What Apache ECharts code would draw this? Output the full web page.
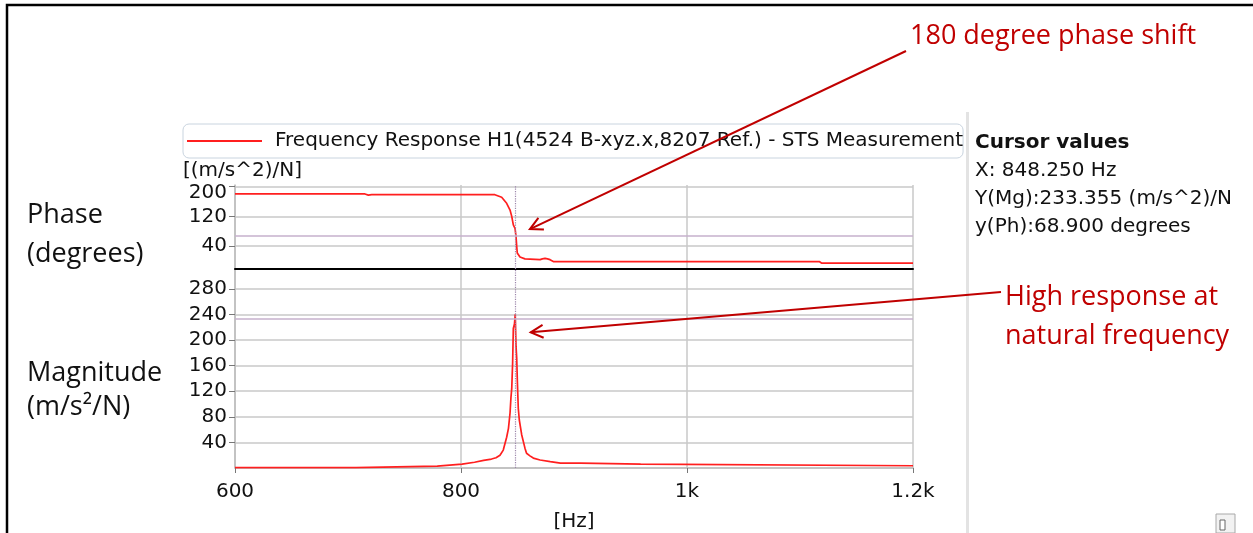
<!DOCTYPE html>
<html>
<head>
<meta charset="utf-8">
<script src="https://cdn.jsdelivr.net/npm/echarts@6/dist/echarts.min.js"></script>
<style>
  html, body { margin: 0; padding: 0; background: #fff; }
  #main { width: 1253px; height: 533px; }
</style>
</head>
<body>
<div id="main"></div>
<script>
const seriesName = 'Frequency Response H1(4524 B-xyz.x,8207 Ref.) - STS Measurement';

// phase trace (degrees)
const phaseFreq = [600, 715, 716.5, 718, 719.5, 721, 723, 830, 836, 840.4,
  843.4, 844.9, 846.3, 847.8, 848.7, 849.3, 849.8, 852.2, 856.6, 870,
  872, 874.4, 876.5, 878.8, 881.7, 1117, 1119, 1200];
const phaseDeg = [180, 180, 176, 177, 176, 178, 178, 178, 171, 155,
  137, 120, 97, 88, 66, 40, 22, 11, 6, 4,
  6, 7.5, 6, 4, -1, -1, -5, -5];

// magnitude trace ((m/s^2)/N)
const magFreq = [600, 707, 708, 779, 780, 801, 802, 812, 813, 820,
  827, 831, 834.5, 837.4, 840.4, 842, 843.4, 844.2, 844.9, 845.7,
  846.3, 847.3, 848, 848.7, 849.3, 849.9, 850.7, 851.6, 853.7, 856.6,
  858, 861, 864, 870, 879, 888, 906, 907, 959, 960, 1200];
const magValue = [0.5, 0.5, 3, 3, 6, 6, 9, 9, 11, 12,
  14, 16, 20, 28, 48, 62, 86, 110, 124, 165,
  218, 225, 240, 190, 172, 134, 93, 75, 52, 31,
  23, 19, 15.5, 12.5, 10, 7.7, 7.5, 6, 6, 3.5, 3.5];

const xTicks = [600, 800, 1000, 1200];
const xTickLabels = ['600', '800', '1k', '1.2k'];
const phaseTicks = [40, 120, 200];

const cursorFreq = 848.25;
const cursorMag = 233.355;
const cursorPhase = 68.9;
const cursorTitle = 'Cursor values';
const cursorLines = ['X: 848.250 Hz', 'Y(Mg):233.355 (m/s^2)/N', 'y(Ph):68.900 degrees'];

const note1 = '180 degree phase shift';
const note2 = ['High response at', 'natural frequency'];

const RED = '#ff1f1f';
const NOTE = '#c00000';
const GRID = '#c8c8c8';
const TXT = '#111';
const FONT = 'DejaVu Sans';

const chart = echarts.init(document.getElementById('main'));

const axisFont = { fontFamily: FONT, fontSize: 20, color: TXT };

const cursorMark = (yVal) => ({
  silent: true,
  symbol: ['none', 'none'],
  label: { show: false },
  animation: false,
  data: [
    { xAxis: cursorFreq, lineStyle: { type: 'dotted', color: '#9c86aa', width: 1.2 } },
    { yAxis: yVal, lineStyle: { type: 'solid', color: '#c6b0cc', width: 1.5 } }
  ]
});

const option = {
  animation: false,
  backgroundColor: '#fff',
  legend: {
    left: 183,
    top: 124,
    padding: [7, 0, 7, 4],
    icon: 'rect',
    itemWidth: 75,
    itemHeight: 2,
    borderColor: '#c9d4df',
    borderWidth: 1,
    borderRadius: 6,
    textStyle: { fontFamily: FONT, fontSize: 20, color: TXT, padding: [0, 0, 0, 8] },
    data: [seriesName]
  },
  grid: [
    { left: 235, width: 678, top: 185, height: 84 },
    { left: 235, width: 678, top: 269, height: 201 }
  ],
  xAxis: [
    {
      gridIndex: 0, type: 'value', min: 600, max: 1200, interval: 200,
      axisLine: { onZero: false, lineStyle: { color: '#000', width: 2 } },
      axisTick: { show: false },
      axisLabel: { show: false },
      splitLine: { lineStyle: { color: GRID, width: 1.5 } }
    },
    {
      gridIndex: 1, type: 'value', min: 600, max: 1200, interval: 200,
      name: '[Hz]', nameLocation: 'middle', nameGap: 44,
      nameTextStyle: axisFont,
      axisLine: { onZero: false, lineStyle: { color: '#bdbdbd', width: 1.5 } },
      axisTick: { length: 5, lineStyle: { color: '#777' } },
      axisLabel: Object.assign({ margin: 14, formatter: v => xTickLabels[xTicks.indexOf(v)] }, axisFont),
      splitLine: { lineStyle: { color: GRID, width: 1.5 } }
    }
  ],
  yAxis: [
    {
      gridIndex: 0, type: 'value', min: -21, max: 204,
      axisLine: { show: true, lineStyle: { color: '#bdbdbd', width: 1.5 } },
      axisTick: { show: true, length: 6, customValues: phaseTicks, lineStyle: { color: '#777' } },
      axisLabel: Object.assign({
        margin: 8,
        customValues: phaseTicks,
        formatter: v => v === phaseTicks[phaseTicks.length - 1] ? '{top|' + v + '}' : String(v),
        rich: { top: { fontFamily: FONT, fontSize: 20, color: TXT, padding: [13, 0, 0, 0] } }
      }, axisFont),
      splitLine: { lineStyle: { color: GRID, width: 1.5 } }
    },
    {
      gridIndex: 1, type: 'value', min: 0, max: 311, interval: 40,
      axisLine: { show: true, lineStyle: { color: '#bdbdbd', width: 1.5 } },
      axisTick: { show: true, length: 6, lineStyle: { color: '#777' } },
      axisLabel: Object.assign({ margin: 8, showMinLabel: false, showMaxLabel: false }, axisFont),
      splitLine: { lineStyle: { color: GRID, width: 1.5 } }
    }
  ],
  series: [
    {
      name: seriesName, type: 'line', xAxisIndex: 0, yAxisIndex: 0,
      symbol: 'none', lineStyle: { color: RED, width: 1.7 }, itemStyle: { color: RED },
      data: phaseFreq.map((f, i) => [f, phaseDeg[i]]),
      markLine: cursorMark(cursorPhase), z: 3
    },
    {
      name: seriesName, type: 'line', xAxisIndex: 1, yAxisIndex: 1,
      symbol: 'none', lineStyle: { color: RED, width: 1.7 }, itemStyle: { color: RED },
      data: magFreq.map((f, i) => [f, magValue[i]]),
      markLine: cursorMark(cursorMag), z: 3
    }
  ]
};

chart.setOption(option);

function arrow(from, to) {
  const ang = Math.atan2(from[1] - to[1], from[0] - to[0]);
  const len = 14, spread = 0.48;
  const w1 = [to[0] + len * Math.cos(ang + spread), to[1] + len * Math.sin(ang + spread)];
  const w2 = [to[0] + len * Math.cos(ang - spread), to[1] + len * Math.sin(ang - spread)];
  return [
    { type: 'polyline', z: 100, shape: { points: [from, to] }, style: { stroke: NOTE, lineWidth: 2, fill: null } },
    { type: 'polyline', z: 100, shape: { points: [w1, to, w2] }, style: { stroke: NOTE, lineWidth: 2, fill: null } }
  ];
}

const tipPhase = chart.convertToPixel({ gridIndex: 0 }, [861, 86]);
const tipMag = chart.convertToPixel({ gridIndex: 1 }, [861.7, 212]);

const textEl = (x, y, text, style) => ({
  type: 'text', x: x, y: y, z: 100,
  style: Object.assign({ text: text, verticalAlign: 'middle', align: 'left' }, style)
});

const sideFont = { fontFamily: 'Open Sans', fontSize: 27, fill: TXT };
const noteFont = { fontFamily: 'Open Sans', fontSize: 27, fill: NOTE };
const panelFont = { fontFamily: FONT, fontSize: 20, fill: TXT };

const graphics = [
  // outer frame
  { type: 'rect', z: 50, shape: { x: 7, y: 5, width: 1260, height: 540 }, style: { fill: null, stroke: '#000', lineWidth: 2.5 } },
  // divider between chart and cursor panel
  { type: 'rect', z: 50, shape: { x: 966, y: 112, width: 3, height: 430 }, style: { fill: '#e3e3e3' } },
  // small button bottom right
  { type: 'rect', z: 50, shape: { x: 1216, y: 514, width: 19, height: 19 }, style: { fill: '#f2f2f2', stroke: '#a8a8a8', lineWidth: 1 } },
  { type: 'rect', z: 51, shape: { x: 1220, y: 520, width: 5, height: 10 }, style: { fill: '#fff', stroke: '#666', lineWidth: 1 } },
  textEl(183, 171, '[(m/s^2)/N]', panelFont),
  textEl(27, 215, 'Phase', sideFont),
  textEl(27, 254, '(degrees)', sideFont),
  textEl(27, 373, 'Magnitude', sideFont),
  textEl(27, 407, '(m/s²/N)', sideFont),
  textEl(910, 36, note1, noteFont),
  textEl(1005, 297, note2[0], noteFont),
  textEl(1005, 336, note2[1], noteFont),
  textEl(975, 143, cursorTitle, Object.assign({ fontWeight: 'bold' }, panelFont)),
  textEl(975, 171, cursorLines[0], panelFont),
  textEl(975, 199, cursorLines[1], panelFont),
  textEl(975, 227, cursorLines[2], panelFont)
].concat(arrow([906, 51], tipPhase), arrow([1001, 292], tipMag));

chart.setOption({ graphic: graphics });
</script>
</body>
</html>
